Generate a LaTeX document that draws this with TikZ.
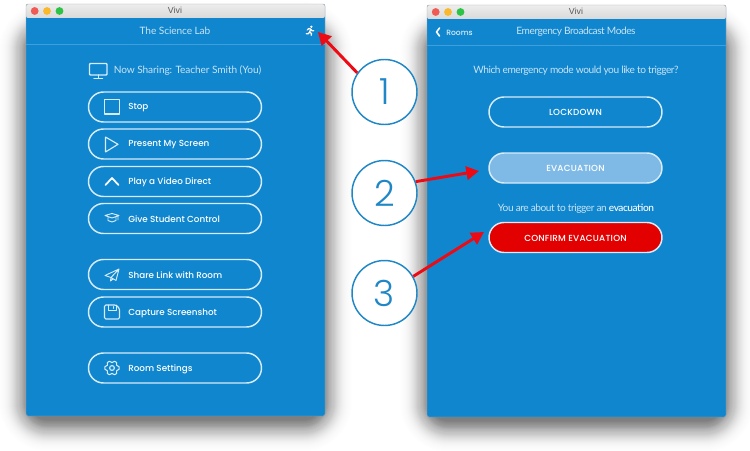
\documentclass[tikz,border=0pt]{standalone}
\usepackage{fontspec}
\usetikzlibrary{arrows.meta}
\newfontfamily\btnfont{Poppins Medium}
\newfontfamily\capsfont[LetterSpace=2.5]{Poppins Medium}
\newfontfamily\numfont{Poppins Light}
\newfontfamily\thinfont[LetterSpace=-1]{Lato}
\newfontfamily\tightfont[LetterSpace=-4.5]{Lato}
\newfontfamily\tightbold[LetterSpace=-4.5]{Lato Medium}
\newfontfamily\vivifont{Liberation Sans}
\definecolor{appblue}{HTML}{0F86CE}
\definecolor{headline}{HTML}{3F9FDC}
\definecolor{softw}{HTML}{D8ECF8}
\definecolor{thinw}{HTML}{C9E4F5}
\definecolor{evac}{HTML}{7FBAE6}
\definecolor{confirmred}{HTML}{E30000}
\definecolor{arrowred}{HTML}{EE0A14}
\definecolor{circleblue}{HTML}{1F87C6}
\tikzset{
  pill/.style={draw=softw,line width=1.1pt,rounded corners=15*0.75pt,minimum width=173*0.75pt,minimum height=30*0.75pt,inner sep=0pt,fill=appblue},
  btntext/.style={text=white,inner sep=0pt,font=\btnfont\fontsize{6.6}{8}\selectfont},
  capstext/.style={text=white,inner sep=0pt,font=\capsfont\fontsize{6.6}{8}\selectfont},
  lefttext/.style={btntext,anchor=west},
  thintext/.style={text=thinw,inner sep=0pt,font=\thinfont\fontsize{7.6}{9}\selectfont},
  tighttext/.style={text=thinw,inner sep=0pt,font=\tightfont\fontsize{7.6}{9}\selectfont},
  vivi/.style={text=black!65,inner sep=0pt,font=\vivifont\fontsize{6.6}{8}\selectfont},
  iconline/.style={draw=softw,line width=0.85pt,line join=round,line cap=round},
  numcircle/.style={circle,draw=circleblue,line width=1.1pt,fill=white,minimum size=65*0.75pt,inner sep=0pt,text=circleblue,font=\numfont\fontsize{27}{30}\selectfont},
  callout/.style={draw=arrowred,line width=2.2pt,-{Triangle[length=9.5pt,width=10pt]}}
}
\newcommand{\appwindow}[5]{% left, top, right, bottom, header line
  \foreach \e in {-30,-29,...,30}{
    \pgfmathsetmacro{\o}{0.035*exp(-\e*\e/242)}
    \pgfmathsetmacro{\r}{max(\e+22,4)*0.75}
    \fill[black,fill opacity=\o,rounded corners=\r pt] ({#1-1-\e},{#2+24-\e}) rectangle ({#3+1+\e},{#4+9+\e});
  }
  \fill[appblue,rounded corners=1.5pt] (#1,#2) rectangle (#3,#4);
  \shade[top color=black!7,bottom color=black!15,rounded corners=1.5pt] (#1,#2) -- (#1,{#2+14}) -- (#3,{#2+14}) -- (#3,#2) -- cycle;
  \fill[appblue] (#1,{#2+13.5}) rectangle (#3,{#2+30});
  \draw[black!35,line width=0.35pt,rounded corners=1.5pt] (#1,#2) rectangle (#3,#4);
  \draw[headline,line width=0.6pt] (#1,#5) -- (#3,#5);
  \fill[color={rgb,255:red,240;green,90;blue,85}] ({#1+8.7},{#2+7}) circle (3.9*0.75pt);
  \fill[color={rgb,255:red,250;green,185;blue,45}] ({#1+21},{#2+7}) circle (3.9*0.75pt);
  \fill[color={rgb,255:red,45;green,195;blue,70}] ({#1+33.5},{#2+7}) circle (3.9*0.75pt);
}
\begin{document}
\begin{tikzpicture}[x=0.75pt,y=-0.75pt]
\useasboundingbox (0,0) rectangle (750,450);
\appwindow{26}{4}{325}{416}{44}
\appwindow{427}{5}{726}{417}{45}
% left window texts
\node[vivi] (vivia) at (175,10.5) {Vivi};
\node[thintext] (lab) at (175,30.5) {The Science Lab};
\node[thintext,anchor=west] (sharing) at (113.5,70.5) {Now Sharing: Teacher Smith (You)};
% monitor
\draw[iconline,draw=softw,line width=1.1pt,rounded corners=0.6pt] (89.5,63.5) rectangle (107,75);
\draw[iconline,draw=softw,line width=1pt] (98.2,75) -- (98.2,78.2) (94,78.6) -- (102.5,78.6);
% runner
\fill[white] (311.3,26.8) circle (1.25);
\draw[white,line width=0.95pt,line cap=round,line join=round] (307.2,30) -- (309,28.4) -- (310.8,29.2) -- (309.6,32) -- (311.6,33.6) -- (311.2,35.3) (309.6,32) -- (308.3,33.8) -- (306.2,33.8) (310.8,29.2) -- (312,30.8) -- (313.8,30.8);
% left buttons
\node[pill] (stop) at (175,107) {};
\node[pill] (present) at (175,144) {};
\node[pill] (play) at (175,181.5) {};
\node[pill] (give) at (175,218.5) {};
\node[pill] (share) at (175,274.5) {};
\node[pill] (capture) at (175,312) {};
\node[pill] (settings) at (175,368) {};
\node[lefttext] at (128,108) {Stop};
\node[lefttext] at (128,145) {Present My Screen};
\node[lefttext] at (128,182.5) {Play a Video Direct};
\node[lefttext] at (128,219.5) {Give Student Control};
\node[lefttext] at (128,275.5) {Share Link with Room};
\node[lefttext] at (128,313) {Capture Screenshot};
\node[lefttext] at (128,369) {Room Settings};
% icons
\draw[iconline] (104.5,99.5) rectangle (119.5,114);
\draw[iconline] (105.5,137) -- (118,144.3) -- (105.5,152) -- cycle;
\draw[iconline,draw=white,line width=1.3pt] (105.5,185) -- (112,178) -- (118.5,185);
\draw[iconline,line width=0.7pt] (105,215.5) -- (112,213.5) -- (119,215.5) -- (112,218) -- cycle (108,217.5) -- (108,220.5) -- (112,222) -- (116,220.5) -- (116,217.5) (118,216) -- (118,220);
\draw[iconline,line width=0.7pt] (105,275.5) -- (119,269) -- (116,280.5) -- (111,277.5) -- cycle (111,277.5) -- (119,269) (111,277.5) -- (110.5,281) -- (113,279);
\draw[iconline,rounded corners=1pt] (104.5,305) -- (116,305) -- (119.5,308.5) -- (119.5,319) -- (104.5,319) -- cycle;
\draw[iconline,line width=0.7pt] (108,305) -- (108,310) -- (116,310) -- (116,305) (113.5,306.5) -- (113.5,308.5);
\draw[iconline] (112,368) circle (2.4);
\draw[iconline,line width=0.8pt] (112,368) ++(0:7.2) \foreach \a in {0,60,...,300}{ -- ({112+7.2*cos(\a+10)},{368+7.2*sin(\a+10)}) -- ({112+5.4*cos(\a+30)},{368+5.4*sin(\a+30)}) -- ({112+7.2*cos(\a+50)},{368+7.2*sin(\a+50)}) } -- cycle;
% right window
\node[vivi] (vivib) at (576,11.5) {Vivi};
\draw[white,line width=1.2pt,line cap=round,line join=round] (439.5,28) -- (436.5,32) -- (439.5,36);
\node[btntext,anchor=west,text=softw,font=\btnfont\fontsize{5.7}{7}\selectfont] (rooms) at (446,32.5) {Rooms};
\node[tighttext] (ebm) at (576,31.5) {Emergency Broadcast Modes};
\node[tighttext] (which) at (576,71) {Which emergency mode would you like to trigger?};
\node[pill] (lockdown) at (575.5,112) {};
\node[capstext] at (575.5,112.7) {LOCKDOWN};
\node[pill,fill=evac] (evacuation) at (575.5,168) {};
\node[capstext] at (575.5,168.7) {EVACUATION};
\node[tighttext] (about) at (576,209) {You are about to trigger an \textcolor{white}{\tightbold evacuation}};
\node[pill,fill=confirmred] (confirm) at (575.5,237.5) {};
\node[capstext] at (575.5,238.2) {CONFIRM EVACUATION};
% callouts
\node[numcircle] (c1) at (384.5,92) {1};
\node[numcircle] (c2) at (384.5,193) {2};
\node[numcircle] (c3) at (384.5,293) {3};
\coordinate (tipa) at (318,32);
\coordinate (tipb) at (479,171);
\coordinate (tipc) at (484,232);
\draw[callout] (c1.145) -- (tipa);
\draw[callout] (c2.20) -- (tipb);
\draw[callout] (c3.30) -- (tipc);
\end{tikzpicture}
\end{document}
